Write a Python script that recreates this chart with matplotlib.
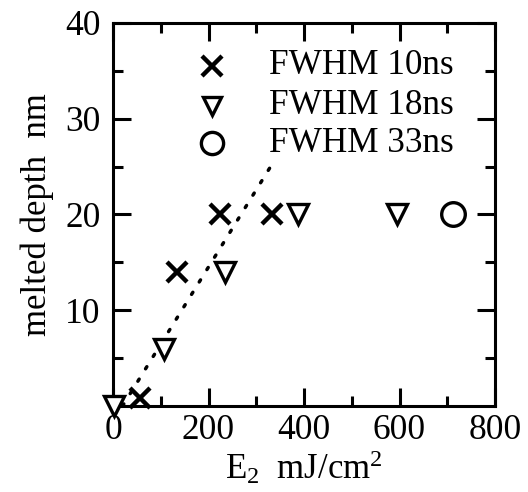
import matplotlib
matplotlib.use("Agg")
import matplotlib.pyplot as plt
from matplotlib.ticker import MultipleLocator, FixedLocator

plt.rcParams['font.family'] = ['Liberation Serif', 'DejaVu Serif']
plt.rcParams['mathtext.fontset'] = 'custom'
plt.rcParams['mathtext.rm'] = 'Liberation Serif'
plt.rcParams['mathtext.it'] = 'Liberation Serif'
plt.rcParams['mathtext.default'] = 'regular'

# data
x10 = [57, 135, 224, 333]
y10 = [0.8, 14, 20, 20]
x18 = [2, 107, 235, 387, 595]
y18 = [0, 6, 14, 20, 20]
x33 = [712]
y33 = [20]
fit_x = [20, 330]
fit_y = [0, 25]
legend_labels = ['FWHM 10ns', 'FWHM 18ns', 'FWHM 33ns']

fig = plt.figure(figsize=(5.28, 4.92), dpi=100)
ax = fig.add_axes([113/528, 1-406/492, (495-113)/528, (406-23)/492])

ax.plot(fit_x, fit_y, color='black', lw=2.5, linestyle=(0, (0.7, 3.5)),
        dash_capstyle='round', zorder=2)
ax.plot(x10, y10, linestyle='none', marker='x', ms=15, mew=3.2, color='black', clip_on=False, zorder=3)
ax.plot(x18, y18, linestyle='none', marker='v', ms=14, mew=2.4, mfc='white', mec='black', clip_on=False, zorder=3)
ax.plot(x33, y33, linestyle='none', marker='o', ms=17, mew=2.4, mfc='white', mec='black', clip_on=False, zorder=3)

# legend (manual, in axes coordinates)
axw = 495 - 113
axh = 406 - 23
rows_y = [66, 106, 143]
mk = [dict(marker='x', ms=14, mew=3.2, color='black'),
      dict(marker='v', ms=13, mew=2.4, mfc='white', mec='black'),
      dict(marker='o', ms=16, mew=2.4, mfc='white', mec='black')]
for yy, lab, kw in zip(rows_y, legend_labels, mk):
    ya = (406 - yy) / axh
    ax.plot([(212 - 113) / axw], [ya], transform=ax.transAxes, linestyle='none', clip_on=False, **kw)
    ax.text((269 - 113) / axw, ya, lab, transform=ax.transAxes, fontsize=25.3,
            va='center', ha='left')

ax.set_xlim(0, 800)
ax.set_ylim(0, 40)
ax.xaxis.set_major_locator(MultipleLocator(200))
ax.xaxis.set_minor_locator(MultipleLocator(100))
ax.yaxis.set_major_locator(FixedLocator([10, 20, 30, 40]))
ax.yaxis.set_minor_locator(FixedLocator([5, 15, 25, 35]))

for s in ax.spines.values():
    s.set_linewidth(2.2)
ax.tick_params(which='both', direction='in', top=True, right=True, width=2.2, labelsize=25.5)
ax.tick_params(which='major', length=13)
ax.tick_params(which='minor', length=7)
ax.tick_params(axis='y', pad=9)
ax.tick_params(axis='x', pad=6)

ax.set_xlabel(r'E$_{2}$  mJ/cm$^{2}$', fontsize=25, labelpad=1)
ax.set_ylabel('melted depth  nm', fontsize=25, labelpad=8)

fig.savefig('out.png', dpi=100)
